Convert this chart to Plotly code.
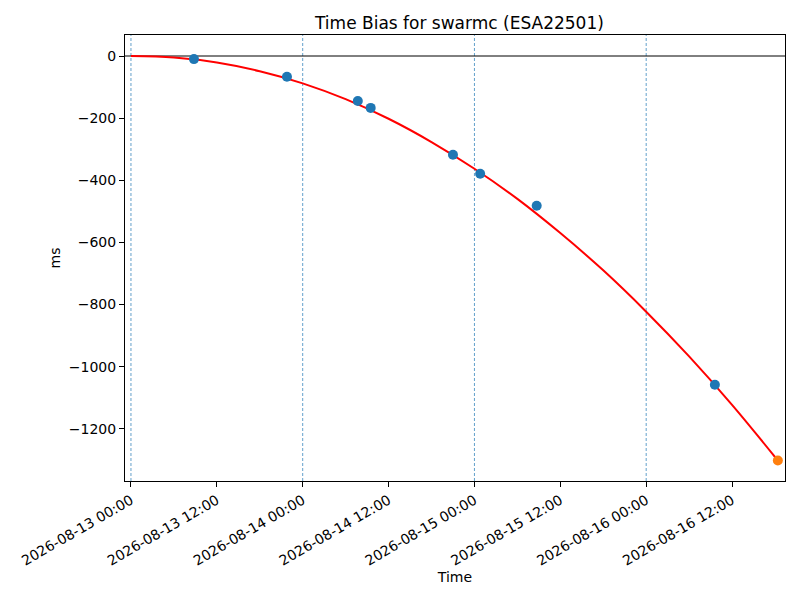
import plotly.graph_objects as go

# measured time bias samples
obs_time = ['2026-08-13 08:48', '2026-08-13 21:48', '2026-08-14 07:42', '2026-08-14 09:30',
            '2026-08-14 21:00', '2026-08-15 00:48', '2026-08-15 08:42', '2026-08-16 09:36']
obs_bias = [-10, -67, -145, -167, -318, -379, -482, -1058]

fit_time = ['2026-08-13 00:00', '2026-08-13 06:00', '2026-08-13 12:00', '2026-08-13 18:00',
            '2026-08-14 00:00', '2026-08-14 06:00', '2026-08-14 12:00', '2026-08-14 18:00',
            '2026-08-15 00:00', '2026-08-15 06:00', '2026-08-15 12:00', '2026-08-15 18:00',
            '2026-08-16 00:00', '2026-08-16 06:00', '2026-08-16 12:00', '2026-08-16 18:24']
fit_bias = [0, -5, -21, -49, -88, -139, -202, -277, -363, -460, -570, -690, -823, -967, -1123, -1302]

# predicted point
pred_time = ['2026-08-16 18:24']
pred_bias = [-1302]

day_marks = ['2026-08-13 00:00', '2026-08-14 00:00', '2026-08-15 00:00', '2026-08-16 00:00']

font = 'DejaVu Sans'

fig = go.Figure()
fig.add_trace(go.Scatter(x=fit_time, y=fit_bias, mode='lines', line_shape='spline',
                         line=dict(color='red', width=2), name='fit'))
fig.add_trace(go.Scatter(x=obs_time, y=obs_bias, mode='markers',
                         marker=dict(color='#1f77b4', size=10), name='measured'))
fig.add_trace(go.Scatter(x=pred_time, y=pred_bias, mode='markers',
                         marker=dict(color='#ff7f0e', size=10), name='predicted'))

for d in day_marks:
    fig.add_vline(x=d, line=dict(color='#1f77b4', width=0.7, dash='3px,2px'), layer='below')
fig.add_hline(y=0, line=dict(color='black', width=1), layer='below')

# page body has an 8px margin, so the figure is sized to fit the window
fig.update_layout(
    width=792, height=592,
    margin=dict(l=117, r=15, t=27, b=119),
    plot_bgcolor='white', paper_bgcolor='white',
    showlegend=False,
    font=dict(family=font, size=14, color='black'),
    title=dict(text='Time Bias for swarmc (ESA22501)', x=0.57, xanchor='center',
               y=0.974, yanchor='middle', font=dict(size=17)),
)
fig.update_xaxes(
    range=['2026-08-12 23:10', '2026-08-16 19:24'], automargin=False,
    tick0='2026-08-13 00:00', dtick=12 * 3600 * 1000, tickformat='%Y-%m-%d %H:%M',
    tickangle=-30, ticks='outside', ticklen=5, tickcolor='black', tickfont=dict(size=14),
    showgrid=False, zeroline=False, showline=True, linecolor='black', linewidth=1, mirror=True,
    title=dict(text='Time', standoff=4, font=dict(size=14)),
)
fig.update_yaxes(
    range=[-1368, 67.6], automargin=False,
    tickvals=[0, -200, -400, -600, -800, -1000, -1200],
    ticktext=['0', '\u2212200', '\u2212400', '\u2212600', '\u2212800', '\u22121000', '\u22121200'],
    ticks='outside', ticklen=5, tickcolor='black', tickfont=dict(size=14),
    showgrid=False, zeroline=False, showline=True, linecolor='black', linewidth=1, mirror=True,
    title=dict(text='ms', standoff=4, font=dict(size=14)),
)

fig.write_html('out.html')
